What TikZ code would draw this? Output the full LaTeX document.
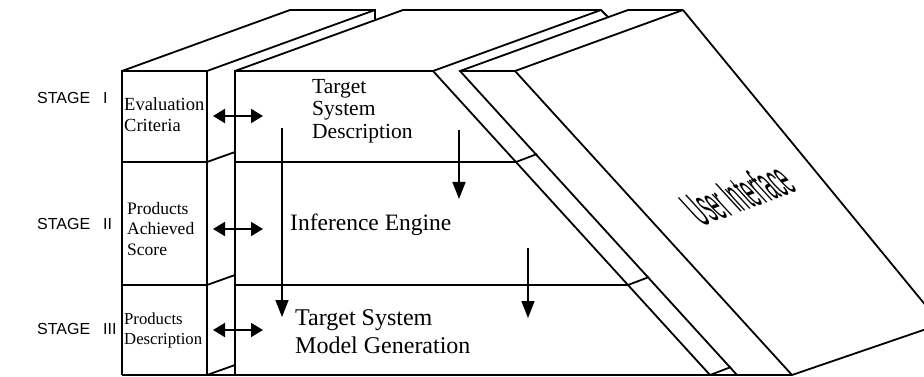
\documentclass[tikz,border=0pt]{standalone}
\usepackage{fontspec}
\setmainfont{Liberation Serif}
\newfontfamily\stagefont{Liberation Sans}
\usetikzlibrary{arrows.meta}

\begin{document}
\begin{tikzpicture}[
  x=1pt, y=-1pt,
  edge/.style={line width=1.8pt, line join=miter},
  stagelbl/.style={font=\stagefont\fontsize{16}{19}\selectfont,
                   anchor=west, inner sep=0pt},
  colbox/.style={align=left, anchor=west, inner sep=0pt},
  darr/.style={{Triangle[length=12pt,width=14pt]}-{Triangle[length=12pt,width=14pt]},
               line width=2pt},
  varr/.style={-{Triangle[length=17pt,width=13pt]}, line width=1.6pt}
]
\useasboundingbox (0,0) rectangle (924,377);
\clip (0,0) rectangle (924,377);
%--- Left column: criteria block ---------------------------------------------
\draw[edge] (122,375) -- (122,71) -- (207,71) -- (207,375);
\draw[edge] (122,71) -- (290,10) -- (375,10) -- (375,19);
\draw[edge] (207,71) -- (375,10);
\draw[edge] (122,162) -- (207,162) -- (235,152);
\draw[edge] (122,285) -- (207,285) -- (235,275);
\draw[edge] (207,375) -- (235,365);
%--- Main block: knowledge base ----------------------------------------------
\draw[edge] (235,375) -- (235,71) -- (433,71) -- (710,375);
\draw[edge] (235,71) -- (403,10) -- (601,10) -- (608,17);
\draw[edge] (433,71) -- (601,10);
\draw[edge] (235,162) -- (516,162) -- (537,154);
\draw[edge] (235,285) -- (628,285) -- (649,277);
\draw[edge] (710,375) -- (731,367);
%--- Leaning slab: user interface --------------------------------------------
\draw[edge] (737,375) -- (460,71) -- (628,10) -- (683,10);
\draw[edge] (460,71) -- (515,71) -- (683,10);
\draw[edge] (515,71) -- (792,375);
\draw[edge] (683,10) -- (941,324) -- (792,375);
\draw[edge] (122,375) -- (792,375);
%--- Stage labels ------------------------------------------------------------
\node[stagelbl] (st1) at (37,98) {STAGE\hspace{13pt}I};
\node[stagelbl] (st2) at (37,224) {STAGE\hspace{13pt}II};
\node[stagelbl] (st3) at (37,329) {STAGE\hspace{13pt}III};
%--- Column texts ------------------------------------------------------------
\node[colbox, font=\fontsize{18.5}{21}\selectfont] (crit) at (124,115)
  {Evaluation\\Criteria};
\node[colbox, font=\fontsize{17.5}{20.5}\selectfont] (score) at (127,229)
  {Products\\Achieved\\Score};
\node[colbox, font=\fontsize{16.7}{20}\selectfont] (pdesc) at (124,330)
  {Products\\Description};
\node[colbox, font=\fontsize{21.5}{22.5}\selectfont] (tsd) at (312,111)
  {Target\\System\\Description};
\node[colbox, anchor=base west, font=\fontsize{23.5}{28}\selectfont] (inf)
  at (290,230) {Inference Engine};
\node[colbox, font=\fontsize{24}{28}\selectfont] (tsm) at (295,332)
  {Target System\\Model Generation};
\node[transform shape, cm={0.77,0.28,-1.85,2.02,(0,0)},
      font=\stagefont\fontsize{20}{24}\selectfont, inner sep=0pt] (ui)
  at (738,194) {User Interface};
%--- Arrow ends --------------------------------------------------------------
\coordinate (c1l) at (213,116);  \coordinate (c1r) at (263,116);
\coordinate (c2l) at (213,229);  \coordinate (c2r) at (263,229);
\coordinate (c3l) at (213,330);  \coordinate (c3r) at (263,330);
\coordinate (lt) at (282,128);   \coordinate (lb) at (282,317);
\coordinate (dt) at (459,130);   \coordinate (db) at (459,199);
\coordinate (it) at (528,248);   \coordinate (ib) at (528,318);
%--- Arrows ------------------------------------------------------------------
\draw[darr] (c1l) -- (c1r);
\draw[darr] (c2l) -- (c2r);
\draw[darr] (c3l) -- (c3r);
\draw[varr] (lt) -- (lb);
\draw[varr] (dt) -- (db);
\draw[varr] (it) -- (ib);
\end{tikzpicture}
\end{document}
